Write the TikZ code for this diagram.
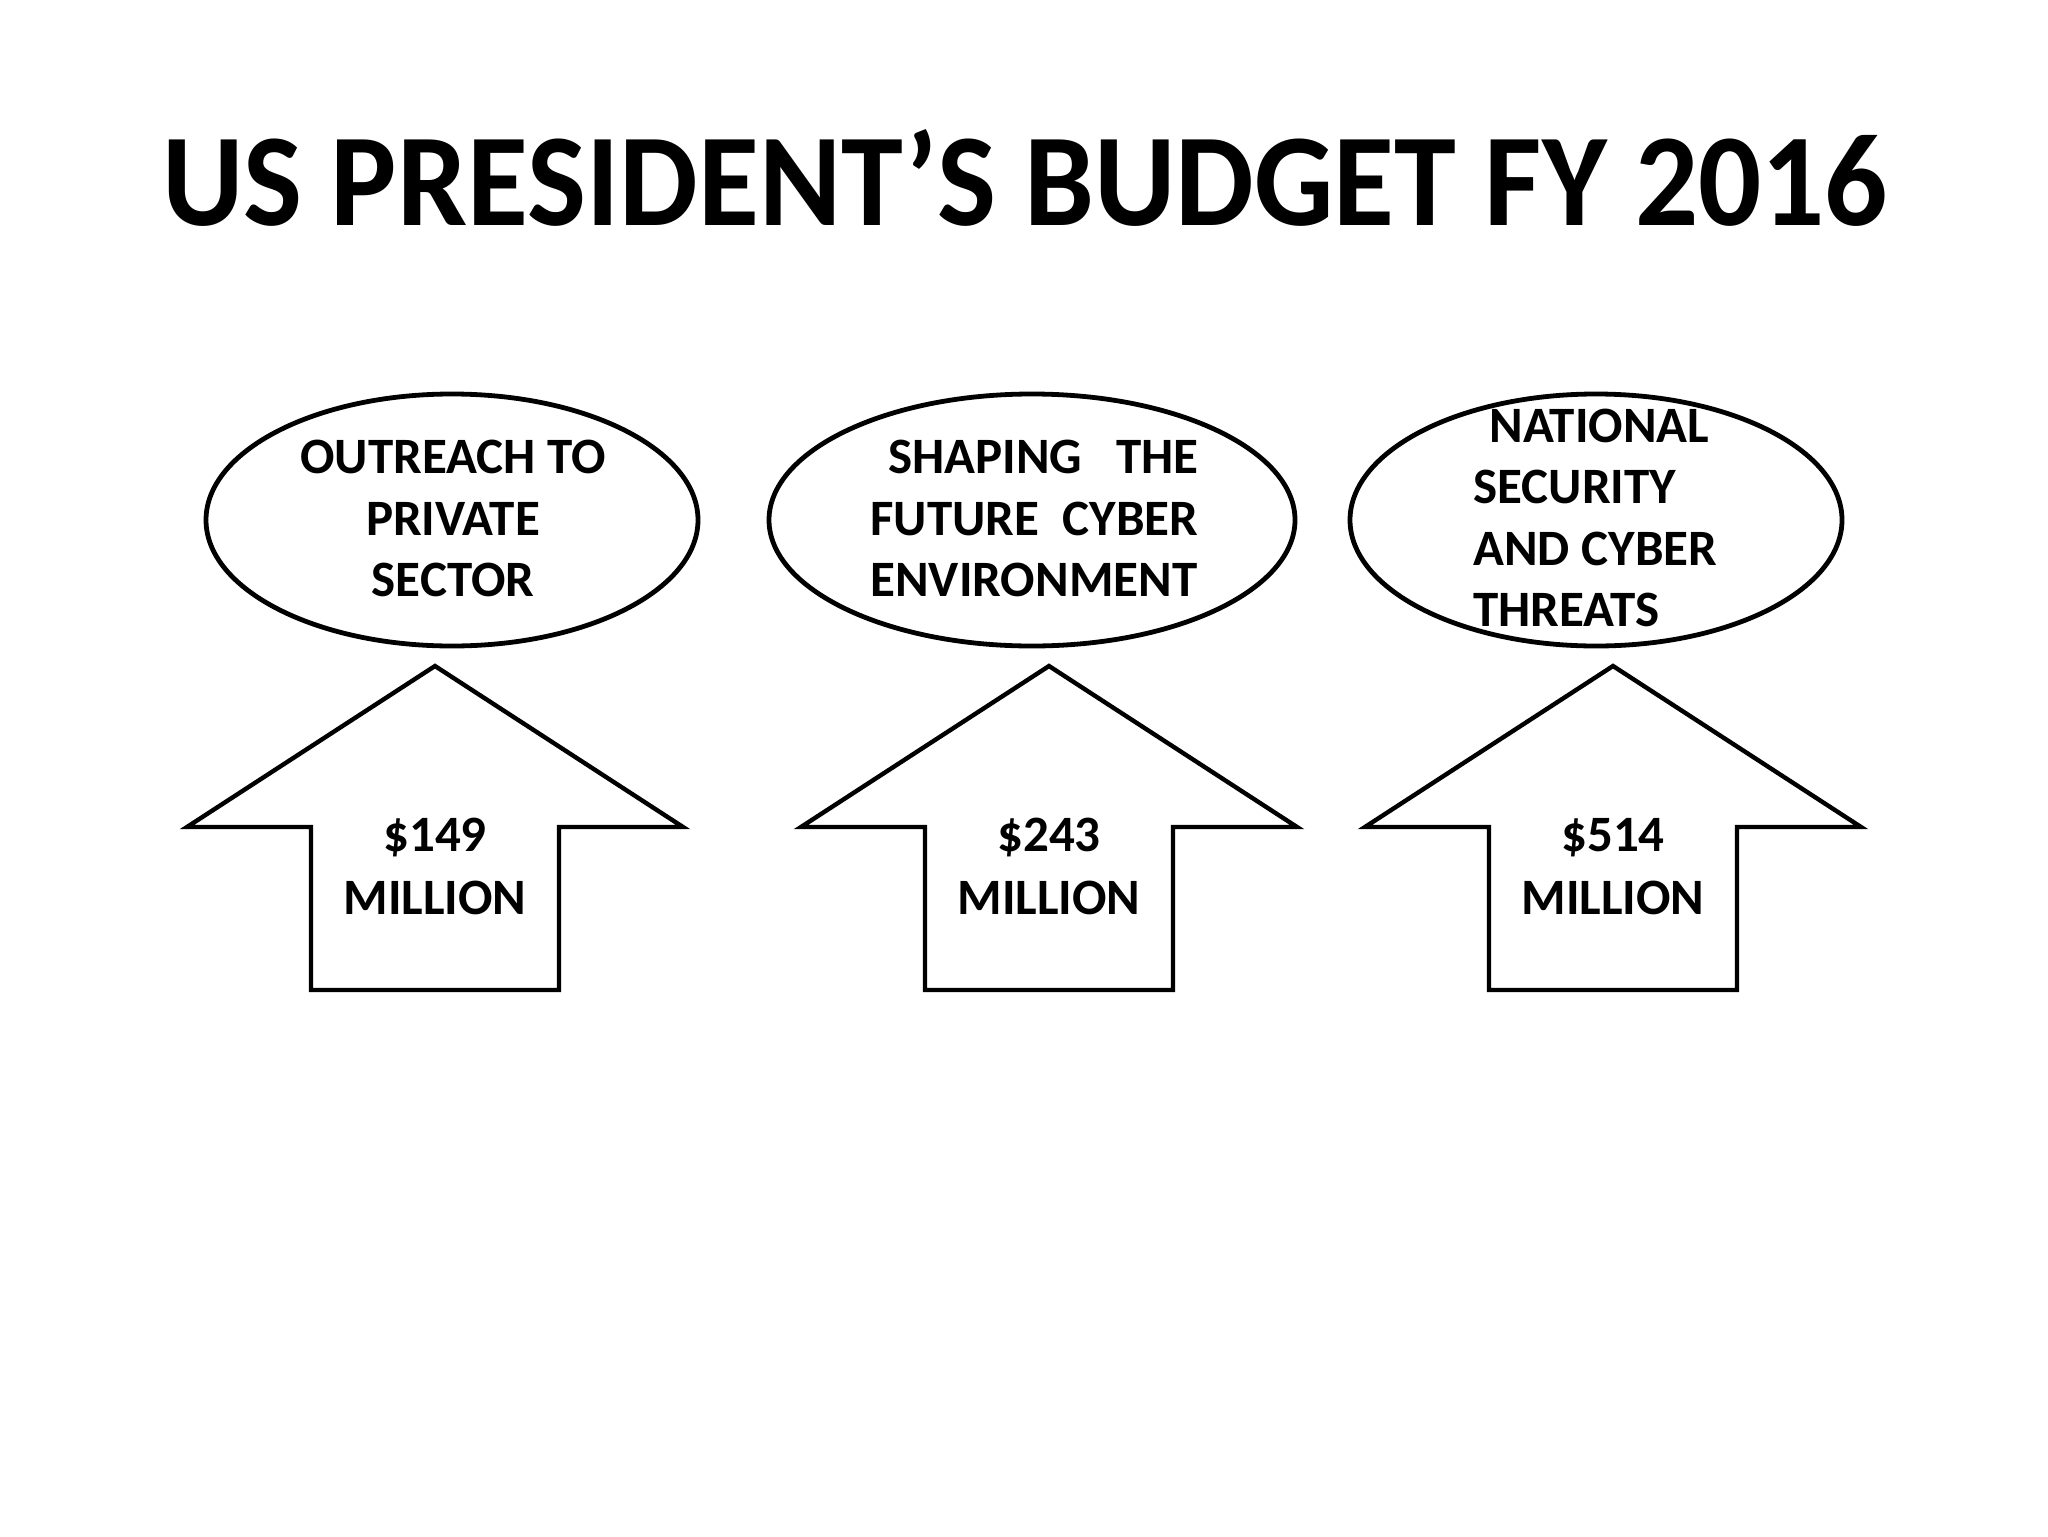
\documentclass[tikz,border=0pt]{standalone}
\usepackage{fontspec}
\usepackage{graphicx}
\setmainfont{Carlito}
\usetikzlibrary{shapes.geometric}
\begin{document}
\begin{tikzpicture}[x=0.5pt,y=-0.5pt,
  bubble/.style={ellipse, draw, line width=2.4pt, inner sep=0pt, minimum height=126pt},
  upshape/.style={draw, line width=2.2pt, line join=miter, line cap=round},
  lbl/.style={font=\fontsize{25.5}{30}\selectfont\bfseries, inner sep=0pt, anchor=base},
  lblw/.style={font=\fontsize{25.5}{30}\selectfont\bfseries, inner sep=0pt, anchor=base west},
]
\useasboundingbox (0,0) rectangle (2048,1536);
\node[font=\fontsize{66}{78}\selectfont\bfseries, inner sep=0pt, anchor=base] (title) at (1025,225) {\scalebox{0.945}[1]{US PRESIDENT’S BUDGET FY 2016}};

% ellipses
\node[bubble, minimum width=246pt] (e1) at (452,520) {};
\node[bubble, minimum width=263pt] (e2) at (1032,520) {};
\node[bubble, minimum width=246pt] (e3) at (1596,520) {};

\node[lbl] (e1a) at (453,473) {OUTREACH TO};
\node[lbl] (e1b) at (453,535) {PRIVATE};
\node[lbl] (e1c) at (453,596) {SECTOR};

\node[lblw] (e2a) at (888,473) {\hbox to 155pt{SHAPING\hfill THE}};
\node[lblw] (e2b) at (870,535) {\hbox to 164pt{FUTURE\hfill CYBER}};
\node[lblw] (e2c) at (870,596) {ENVIRONMENT};

\node[lblw] (e3a) at (1489,442) {NATIONAL};
\node[lblw] (e3b) at (1473,503) {SECURITY};
\node[lblw] (e3c) at (1473,565) {AND CYBER};
\node[lblw] (e3d) at (1473,626) {THREATS};

% arrows
\coordinate (a1tip) at (435,666);
\draw[upshape] (a1tip) -- (683,827) -- (559,827) -- (559,990) -- (311,990) -- (311,827) -- (187,827) -- cycle;
\coordinate (a2tip) at (1049,666);
\draw[upshape] (a2tip) -- (1297,827) -- (1173,827) -- (1173,990) -- (925,990) -- (925,827) -- (801,827) -- cycle;
\coordinate (a3tip) at (1613,666);
\draw[upshape] (a3tip) -- (1861,827) -- (1737,827) -- (1737,990) -- (1489,990) -- (1489,827) -- (1365,827) -- cycle;

\node[lbl] (a1a) at (435,851) {\$149};
\node[lbl] (a1b) at (435,914) {MILLION};
\node[lbl] (a2a) at (1049,851) {\$243};
\node[lbl] (a2b) at (1049,914) {MILLION};
\node[lbl] (a3a) at (1613,851) {\$514};
\node[lbl] (a3b) at (1613,914) {MILLION};
\end{tikzpicture}
\end{document}
